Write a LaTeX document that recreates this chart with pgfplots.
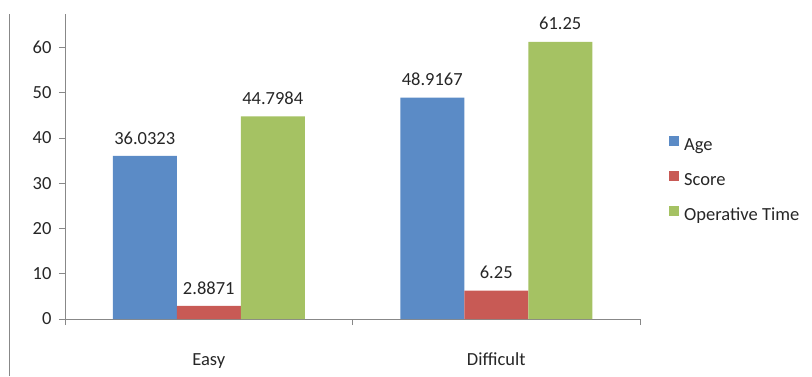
\documentclass[border=0pt]{standalone}
\usepackage{fontspec}
\setmainfont{Carlito}
\usepackage{pgfplots}
\pgfplotsset{compat=1.18}
\definecolor{cA}{HTML}{5B8BC6}
\definecolor{cS}{HTML}{C85A55}
\definecolor{cO}{HTML}{A5C263}
\definecolor{axgray}{HTML}{888888}
\definecolor{txt}{HTML}{262626}
\begin{document}
\begin{tikzpicture}[x=1bp,y=1bp]
\useasboundingbox (0,0) rectangle (812,376);
\draw[axgray, line width=1.5bp] (9.5,0) -- (9.5,362);
\begin{axis}[
  at={(65bp,57bp)}, anchor=south west,
  scale only axis, width=575bp, height=305bp,
  xmin=-0.5, xmax=1.5, ymin=0, ymax=67.4,
  ybar=0pt, bar width=64bp,
  axis x line=bottom, axis y line=left,
  axis line style={axgray, -, line width=0.8bp},
  xtick={-0.5,0.5,1.5}, xticklabels={},
  extra x ticks={0,1}, extra x tick labels={Easy,Difficult},
  extra x tick style={major tick length=0pt},
  ytick={0,10,...,60},
  tick align=outside, major tick length=6bp,
  tick style={axgray, line width=0.8bp},
  font=\fontsize{18.5bp}{22bp}\selectfont,
  every tick label/.append style={text=txt},
  /pgf/number format/assume math mode=true,
  xticklabel style={anchor=base, yshift=-46bp},
  yticklabel style={anchor=east, xshift=-4bp},
  point meta=explicit symbolic,
  nodes near coords,
  every node near coord/.append style={anchor=center, yshift=18bp, text=txt, font=\fontsize{18.5bp}{22bp}\selectfont},
  legend style={draw=none, fill=none, at={(1.0504,0.4557)}, anchor=west, inner sep=0pt,
    row sep=16bp, column sep=5bp, nodes={text height=13bp, text depth=4bp, inner sep=0pt, text=txt}},
  legend cell align=left,
  legend image code/.code={\path[#1,draw=none] (0bp,0bp) rectangle (10bp,10.5bp);},
]
\addplot[fill=cA, draw=none] coordinates {(0,36.0323) [36.0323] (1,48.9167) [48.9167]};
\addplot[fill=cS, draw=none] coordinates {(0,2.8871) [2.8871] (1,6.25) [6.25]};
\addplot[fill=cO, draw=none] coordinates {(0,44.7984) [44.7984] (1,61.25) [61.25]};
\legend{Age,Score,Operative Time}
\end{axis}
\end{tikzpicture}
\end{document}
